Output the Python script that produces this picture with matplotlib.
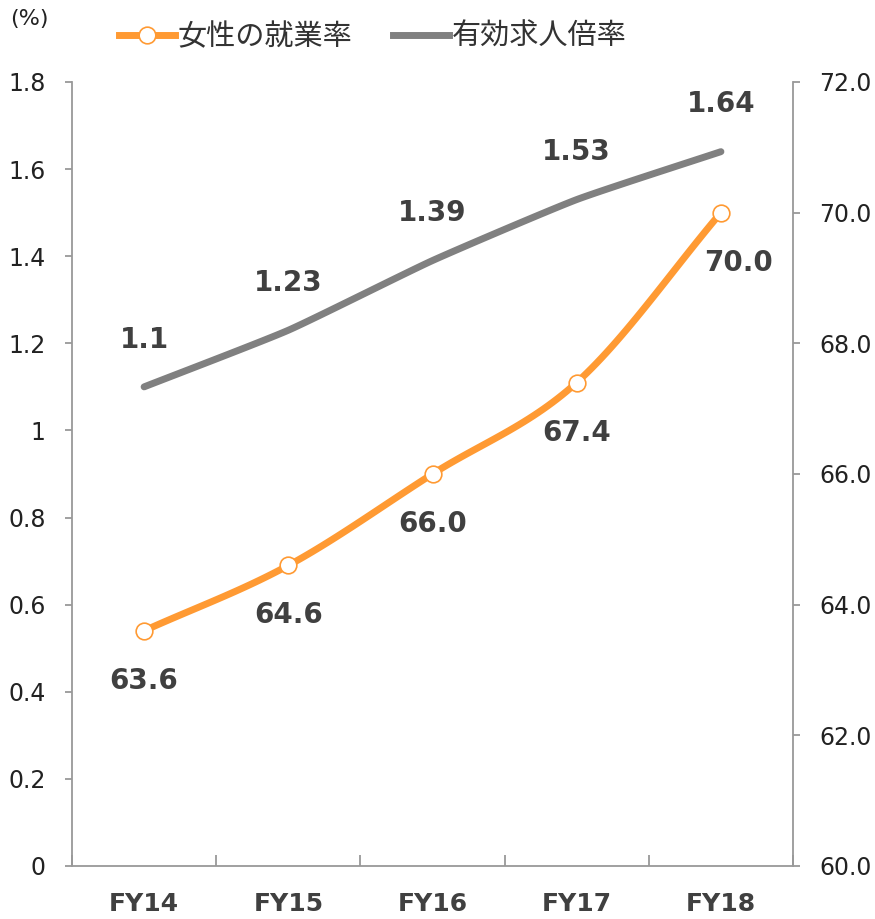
import numpy as np
import matplotlib
matplotlib.use("Agg")
import matplotlib.pyplot as plt
from matplotlib.lines import Line2D

plt.rcParams['font.family'] = ['DejaVu Sans', 'Noto Sans CJK JP']

categories = ["FY14", "FY15", "FY16", "FY17", "FY18"]
employment_rate = [63.6, 64.6, 66.0, 67.4, 70.0]      # 女性の就業率 (right axis)
job_ratio = [1.10, 1.23, 1.39, 1.53, 1.64]             # 有効求人倍率 (left axis)
job_ratio_labels = ["1.1", "1.23", "1.39", "1.53", "1.64"]
left_ticks = [0, 0.2, 0.4, 0.6, 0.8, 1, 1.2, 1.4, 1.6, 1.8]
left_tick_labels = ["0", "0.2", "0.4", "0.6", "0.8", "1", "1.2", "1.4", "1.6", "1.8"]
right_ticks = [60, 62, 64, 66, 68, 70, 72]

ORANGE = "#FF9A33"
GRAY = "#808080"
LABEL = "#404040"
SPINE = "#999999"


def cardinal(x, y, s=1.0, n=30):
    x = np.asarray(x, float); y = np.asarray(y, float)
    px = np.concatenate([[2 * x[0] - x[1]], x, [2 * x[-1] - x[-2]]])
    py = np.concatenate([[2 * y[0] - y[1]], y, [2 * y[-1] - y[-2]]])
    xs, ys = [], []
    for i in range(1, len(px) - 2):
        t = np.linspace(0, 1, n, endpoint=(i == len(px) - 3))
        h00 = 2 * t ** 3 - 3 * t ** 2 + 1
        h10 = t ** 3 - 2 * t ** 2 + t
        h01 = -2 * t ** 3 + 3 * t ** 2
        h11 = t ** 3 - t ** 2
        for P, out in ((px, xs), (py, ys)):
            m1 = s * 0.5 * (P[i + 1] - P[i - 1])
            m2 = s * 0.5 * (P[i + 2] - P[i])
            out.extend(h00 * P[i] + h10 * m1 + h01 * P[i + 1] + h11 * m2)
    return np.array(xs), np.array(ys)


fig = plt.figure(figsize=(8.75, 9.19), dpi=100)
ax = fig.add_axes([0.0823, 0.0577, 0.824, 0.8531])
ax2 = ax.twinx()

x = np.arange(len(categories))

# gray line on left axis
gx, gy = cardinal(x, job_ratio, s=0.5)
ax.plot(gx, gy, color=GRAY, lw=5, solid_capstyle='round', zorder=3)
ax.set_ylim(0, 1.8)
ax.set_xlim(-0.5, len(categories) - 0.5)

# orange line on right axis
ox, oy = cardinal(x, employment_rate, s=1.0)
ax2.plot(ox, oy, color=ORANGE, lw=5, solid_capstyle='round', zorder=3)
ax2.plot(x, employment_rate, 'o', ms=12, mfc='white', mec=ORANGE, mew=1.2, zorder=4)
ax2.set_ylim(60, 72)

# data labels
for xi, v, s in zip(x, job_ratio, job_ratio_labels):
    ax.annotate(s, (xi, v), xytext=(0, 34), textcoords='offset points',
                ha='center', va='center', fontsize=20, fontweight='bold', color=LABEL)
for i, (xi, v) in enumerate(zip(x, employment_rate)):
    dx = 13 if i == len(x) - 1 else 0
    ax2.annotate(f"{v:.1f}", (xi, v), xytext=(dx, -36), textcoords='offset points',
                 ha='center', va='center', fontsize=20, fontweight='bold', color=LABEL)

# axes styling
for a in (ax, ax2):
    a.spines['top'].set_visible(False)
ax.spines['right'].set_visible(False)
ax2.spines['left'].set_visible(False)
ax2.spines['bottom'].set_visible(False)
for sp in (ax.spines['left'], ax.spines['bottom'], ax2.spines['right']):
    sp.set_color(SPINE)
    sp.set_linewidth(1.3)

ax.set_yticks(left_ticks)
ax.set_yticklabels(left_tick_labels)
ax.tick_params(axis='y', length=5, width=1.3, color=SPINE, pad=14, labelsize=17,
               labelcolor='#222222')
ax2.set_yticks(right_ticks)
ax2.set_yticklabels([f"{t:.1f}" for t in right_ticks])
ax2.tick_params(axis='y', length=5, width=1.3, color=SPINE, pad=14, labelsize=17,
                labelcolor='#222222')

ax.set_xticks(x)
ax.set_xticklabels(categories, fontsize=18, fontweight='bold', color=LABEL)
ax.set_xticks(np.arange(-0.5, len(categories)), minor=True)
ax.tick_params(axis='x', which='major', length=0, pad=19)
ax.tick_params(axis='x', which='minor', direction='in', length=8, width=1.3, color=SPINE)

fig.text(0.011, 0.979, "(%)", fontsize=16, color='#222222', va='center', ha='left')

handles = [
    Line2D([], [], color=ORANGE, lw=5, marker='o', ms=12, mfc='white', mec=ORANGE, mew=1.2),
    Line2D([], [], color=GRAY, lw=5),
]
fig.legend(handles, ["女性の就業率", "有効求人倍率"], loc='center', bbox_to_anchor=(0.426, 0.96),
           ncol=2, frameon=False, handlelength=1.9, handletextpad=0.1, columnspacing=1.4,
           prop={'family': ['Noto Sans CJK JP'], 'size': 21}, labelcolor='#333333')

fig.savefig("out.png", dpi=100)
